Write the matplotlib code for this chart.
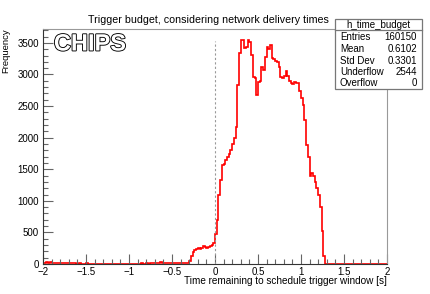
import numpy as np
import matplotlib
matplotlib.use("Agg")
import matplotlib.pyplot as plt
import matplotlib.patheffects as pe
from matplotlib.patches import Rectangle

plt.rcParams["font.family"] = ["Liberation Sans", "DejaVu Sans"]

# histogram h_time_budget: 200 bins of 0.02 s between -2 and 2
bin_edges = np.linspace(-2.0, 2.0, 201)

tail_counts = [
    18, 22, 25, 20, 24, 15, 21, 12, 10, 14,
    8, 10, 12, 9, 16, 22, 14, 9, 8, 7,
    6, 8, 7, 5, 6, 9, 7, 6, 5, 6,
    5, 6, 4, 5, 7, 5, 6, 4, 5, 4,
    4, 5, 6, 4, 3, 5, 4, 6, 5, 4,
    5, 4, 6, 5, 7, 6, 5, 8, 6, 7,
    8, 7, 9, 10, 12, 11, 15, 22, 28, 18,
    12, 14, 10, 12, 15, 13, 12, 14, 11, 13,
    15, 12, 14, 18,
]
main_counts = [
    10, 40, 120, 190, 220, 230, 250, 240, 260, 290,
    270, 250, 270, 290, 300, 330, 480, 700, 1100, 1330,
    1560, 1580, 1650, 1700, 1740, 1800, 1900, 2000, 2170, 2830,
    3340, 3550, 3550, 3420, 3440, 3550, 3520, 3310, 2960, 2940,
    2680, 2880, 2900, 3120, 3070, 3280, 3440, 3400, 3470, 3260,
    3250, 3210, 3200, 3120, 2960, 2940, 2970, 3060, 2980, 2900,
    2870, 2850, 2880, 2870, 2870, 2740, 2630, 2520, 2280, 1880,
    1700, 1390, 1440, 1390, 1300, 1200, 1100, 900, 520, 120,
]
empty_counts = [0] * 36
counts = tail_counts + main_counts + empty_counts

stat_names = ["Entries", "Mean", "Std Dev", "Underflow", "Overflow"]
stat_values = ["160150", "0.6102", "0.3301", "2544", "0"]

W, H = 430, 294
fig = plt.figure(figsize=(W / 100, H / 100), dpi=100)
ax = fig.add_axes([43 / W, 1 - 264 / H, 344 / W, 235 / H])

ax.stairs(counts, bin_edges, color="red", lw=1.2)
ax.vlines(0, 0, 3530, colors="#999999", linestyles=(0, (2, 2)), lw=0.8)

ax.set_xlim(-2, 2)
ax.set_ylim(0, 3720)
ax.set_xticks(np.arange(-2, 2.01, 0.5))
ax.set_xticklabels(["\u22122", "\u22121.5", "\u22121", "\u22120.5", "0", "0.5", "1", "1.5", "2"])
ax.set_xticks(np.arange(-2, 2.01, 0.1), minor=True)
ax.set_yticks(np.arange(0, 3501, 500))
ax.set_yticks(np.arange(0, 3701, 100), minor=True)
ax.tick_params(which="both", direction="in", labelsize=7, top=False, right=False)
ax.tick_params(which="major", length=7, width=0.8, color="#666666")
ax.tick_params(which="minor", length=3.5, width=0.8, color="#666666")
ax.tick_params(axis="x", pad=2.5)
ax.tick_params(axis="y", pad=3)
for s in ["left", "bottom"]:
    ax.spines[s].set_color("#333333")
for s in ["top", "right"]:
    ax.spines[s].set_color("#999999")

fig.text(208 / W, 1 - 20 / H, "Trigger budget, considering network delivery times",
         ha="center", va="center", fontsize=7.7)
fig.text(387 / W, 1 - 281 / H, "Time remaining to schedule trigger window [s]",
         ha="right", va="center", fontsize=7.2)
fig.text(6 / W, 1 - 28 / H, "Frequency", rotation=90, ha="center", va="top", fontsize=6.8)

# CHIPS logo
logo = fig.text(90 / W, 1 - 44 / H, "CHIPS", ha="center", va="center", fontsize=17,
                fontweight="bold", color="white")
logo.set_path_effects([pe.Stroke(linewidth=1.3, foreground="black"), pe.Normal()])

# stat box
bx0, bx1, by0, by1 = 335, 422, 19, 89
fig.patches.append(Rectangle((bx0 / W, 1 - by1 / H), (bx1 - bx0) / W, (by1 - by0) / H,
                             transform=fig.transFigure, facecolor="white",
                             edgecolor="#777777", lw=0.9, zorder=5))
fig.lines.append(plt.Line2D([bx0 / W, bx1 / W], [1 - 30 / H, 1 - 30 / H],
                            transform=fig.transFigure, color="#777777", lw=0.9, zorder=6))
fig.text((bx0 + bx1) / 2 / W, 1 - 24.5 / H, "h_time_budget", ha="center", va="center",
         fontsize=7, zorder=7)
row_y = [36.5, 48.5, 60.5, 72, 83.5]
for name, val, y in zip(stat_names, stat_values, row_y):
    fig.text(340 / W, 1 - y / H, name, ha="left", va="center", fontsize=7, zorder=7)
    fig.text(417 / W, 1 - y / H, val, ha="right", va="center", fontsize=7, zorder=7)

fig.savefig("out.png", dpi=100)
